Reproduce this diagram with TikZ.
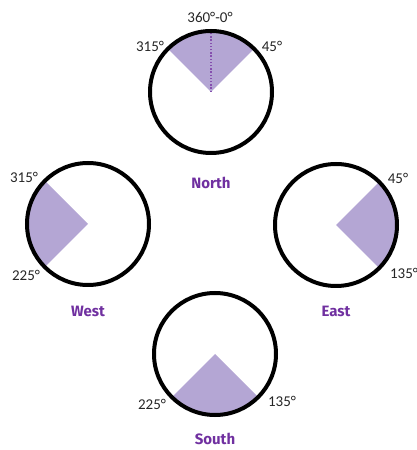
\documentclass[tikz,border=0pt]{standalone}
\usepackage{fontspec}
\setmainfont{Carlito}
\newfontfamily\headfont{Fira Sans Bold}
\definecolor{secfill}{RGB}{180,166,212}
\definecolor{headpurple}{RGB}{112,48,160}
\begin{document}
\begin{tikzpicture}[x=1pt,y=1pt,
  ring/.style={circle,draw=black,line width=4pt,minimum size=122pt,inner sep=0pt},
  sector/.style={fill=secfill},
  deg/.style={font=\fontsize{15}{15}\selectfont,inner sep=0pt,text=black!85},
  head/.style={font=\headfont\fontsize{15}{15}\selectfont,text=headpurple,inner sep=0pt},
  dotline/.style={draw=headpurple!85,line width=1.5pt,dash pattern=on 1.4pt off 1.8pt}]
\useasboundingbox (0,0) rectangle (417,450);
\coordinate (cN) at (211,358);
\coordinate (cW) at (88,226);
\coordinate (cE) at (336,225);
\coordinate (cS) at (215,96);
% sectors
\fill[sector] (cN) -- ++(45:61) arc[start angle=45,end angle=135,radius=61] -- cycle;
\fill[sector] (cW) -- ++(135:61) arc[start angle=135,end angle=225,radius=61] -- cycle;
\fill[sector] (cE) -- ++(-45:61) arc[start angle=-45,end angle=45,radius=61] -- cycle;
\fill[sector] (cS) -- ++(225:61) arc[start angle=225,end angle=315,radius=61] -- cycle;
\coordinate (nTop) at ([yshift=61pt]cN);
\draw[dotline] (cN) -- (nTop);
% rings
\node[ring] (N) at (cN) {};
\node[ring] (W) at (cW) {};
\node[ring] (E) at (cE) {};
\node[ring] (S) at (cS) {};
% degree labels
\node[deg] (n0) at (210,433) {360°-0°};
\node[deg] (n315) at (150,404) {315°};
\node[deg] (n45) at (272,404) {45°};
\node[deg] (w315) at (24,273) {315°};
\node[deg] (w225) at (26,175) {225°};
\node[deg] (e45) at (398,272) {45°};
\node[deg] (e135) at (404,177) {135°};
\node[deg] (s225) at (152,46) {225°};
\node[deg] (s135) at (282,49) {135°};
% headings
\node[head] (hN) at (211,267) {North};
\node[head] (hW) at (88,139) {West};
\node[head] (hE) at (336,139) {East};
\node[head] (hS) at (215,11) {South};
\end{tikzpicture}
\end{document}
